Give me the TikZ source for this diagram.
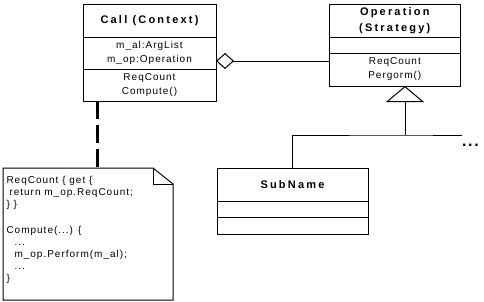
\documentclass[tikz,border=0pt]{standalone}
\usepackage{fontspec}
\newfontfamily\umlfont{Liberation Sans}[LetterSpace=10]
\newfontfamily\umltitle{Liberation Sans}[LetterSpace=20]
\usetikzlibrary{positioning, arrows.meta}
\tikzset{
    compart/.style={rectangle, draw, line width=1pt, inner sep=0pt, outer sep=0pt, align=center, font=\umlfont\fontsize{10}{14}\selectfont},
    titlecompart/.style={compart, font=\umltitle\bfseries\fontsize{11}{16}\selectfont},
    notebody/.style={rectangle, inner xsep=3.5pt, inner ysep=4pt, outer sep=0pt, font=\umlfont\fontsize{10}{12}\selectfont},
    link/.style={line width=1pt},
    aggregation/.style={link, {Diamond[open, length=18pt, width=16pt]}-},
    inherit/.style={link, -{Triangle[open, length=16pt, width=38pt]}},
    notelink/.style={line width=3pt, dash pattern=on 18pt off 6pt},
}

\begin{document}
\begin{tikzpicture}[x=1pt, y=-1pt]
    \useasboundingbox (0,0) rectangle (484,301);

    % Classe contesto
    \node[titlecompart, anchor=north, minimum width=133pt, minimum height=33pt] (callname) at (149.5,4) {Call (Context)};
    \node[compart, minimum width=133pt, minimum height=32pt, below=0pt of callname] (callattr) {m\_al:ArgList\\m\_op:Operation};
    \node[compart, minimum width=133pt, minimum height=32pt, below=0pt of callattr] (callops) {ReqCount\\Compute()};

    % Classe strategia
    \node[titlecompart, anchor=north, minimum width=131pt, minimum height=33pt] (opname) at (394.8,4) {Operation\\(Strategy)};
    \node[compart, minimum width=131pt, minimum height=16pt, below=0pt of opname] (opattr) {};
    \node[compart, minimum width=131pt, minimum height=33pt, below=0pt of opattr] (opops) {ReqCount\\Pergorm()};

    % Sottoclasse
    \node[titlecompart, anchor=north, minimum width=151pt, minimum height=33pt] (subname) at (292.5,168) {SubName};
    \node[compart, minimum width=151pt, minimum height=16pt, below=0pt of subname] (subattr) {};
    \node[compart, minimum width=151pt, minimum height=17pt, below=0pt of subattr] (subops) {};

    % Nota
    \node[notebody, anchor=north west] (note) at (3,168) {\parbox[t][124pt][t]{163pt}{\rule{0pt}{11pt}ReqCount \{ get \{\\
        \hspace*{3pt}return m\_op.ReqCount;\\
        \} \}\\[14pt]
        Compute(...) \{\\
        \hspace*{8pt}...\\
        \hspace*{8pt}m\_op.Perform(m\_al);\\
        \hspace*{8pt}...\\
        \}}};
    \draw[link] (note.north west) -- ([xshift=-20pt]note.north east) -- ([yshift=-16pt]note.north east) -- (note.south east) -- (note.south west) -- cycle;
    \draw[link] ([xshift=-20pt]note.north east) |- ([yshift=-16pt]note.north east);

    % Collegamenti
    \draw[aggregation] ([yshift=-8pt]callattr.east) -- ([yshift=-8pt]callattr.east -| opops.west);
    \draw[notelink] ([xshift=14pt]callops.south west) -- ([xshift=14pt]callops.south west |- note.north);
    \coordinate (fork) at (405,135);
    \coordinate (forkend) at (462,135);
    \draw[inherit] (fork) -- (fork |- opops.south);
    \draw[link] (subname.north) |- (fork) -- (forkend);
    \node[font=\umlfont\bfseries\fontsize{16}{16}\selectfont, anchor=base west, inner sep=0pt] (more) at (forkend |- 0,146.5) {...};
\end{tikzpicture}
\end{document}
